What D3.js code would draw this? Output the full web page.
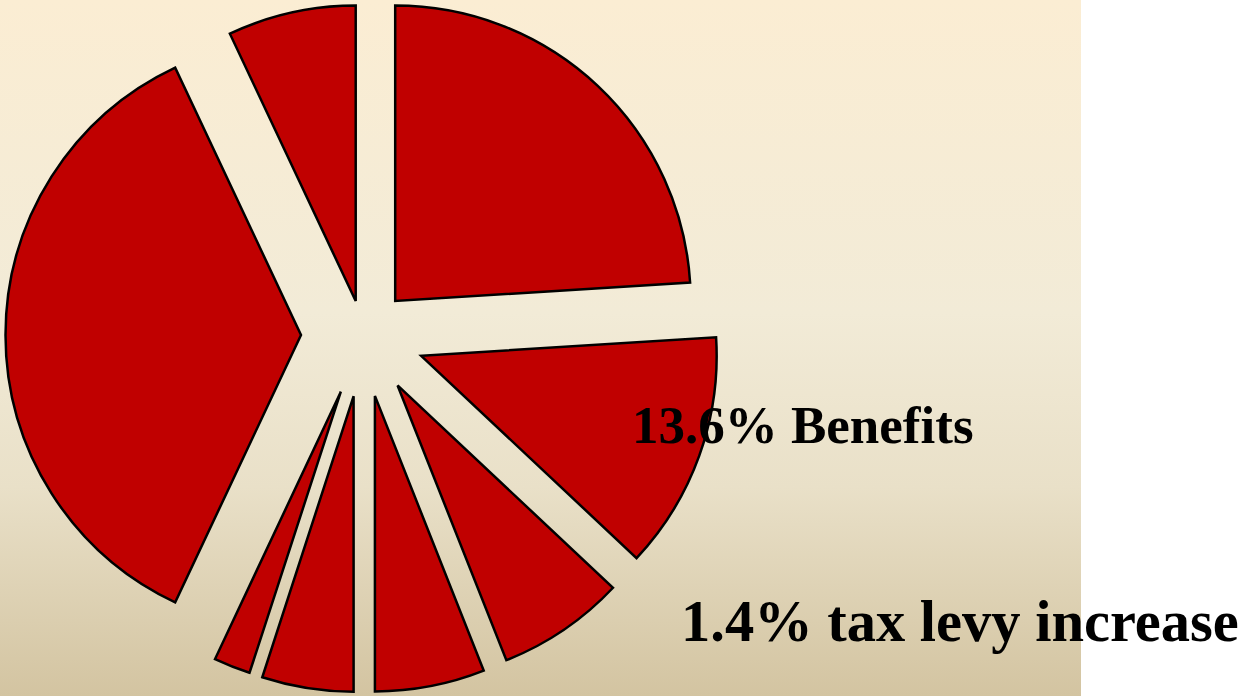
<!DOCTYPE html>
<html>
<head>
<meta charset="utf-8">
<script src="https://cdn.jsdelivr.net/npm/d3@7"></script>
<style>
  html, body { margin: 0; padding: 0; background: #ffffff; }
  svg { display: block; }
</style>
</head>
<body>
<svg id="chart" width="1242" height="696"></svg>
<script>
// Data (percent shares, clockwise from 12 o'clock)
const categories = ["A", "Benefits", "C", "D", "E", "Tax levy increase", "G", "H"];
const values = [24, 13, 7, 6, 5, 2, 36, 7];
// explosion distance of each slice (px)
const explode = [46.6, 61.5, 61, 62, 62, 61, 62.3, 34.8];
const labels = [
  { text: "13.6% Benefits", x: 632, y: 443, size: 53 },
  { text: "1.4% tax levy increase", x: 681, y: 641, size: 58.5 }
];

const W = 1242, H = 696;
const svg = d3.select("#chart");

// background gradient panel
const defs = svg.append("defs");
const grad = defs.append("linearGradient").attr("id", "bg")
  .attr("x1", 0).attr("y1", 0).attr("x2", 0).attr("y2", 1);
[[0, "#fbedd3"], [0.45, "#f2ebd7"], [0.7, "#e9e0c8"], [1, "#d3c4a1"]].forEach(s =>
  grad.append("stop").attr("offset", s[0]).attr("stop-color", s[1]));
svg.append("rect").attr("x", 0).attr("y", 0).attr("width", 1081).attr("height", H)
  .attr("fill", "url(#bg)");

const cx = 363.3, cy = 335, R = 295.5;
const pie = d3.pie().sort(null).value(d => d)(values);
const arc = d3.arc().innerRadius(0).outerRadius(R);

const g = svg.append("g").attr("transform", `translate(${cx},${cy})`);
g.selectAll("path").data(pie).join("path")
  .attr("d", arc)
  .attr("transform", (d, i) => {
    const m = (d.startAngle + d.endAngle) / 2;
    return `translate(${Math.sin(m) * explode[i]},${-Math.cos(m) * explode[i]})`;
  })
  .attr("fill", "#c00000")
  .attr("stroke", "#000")
  .attr("stroke-width", 2.5)
  .attr("stroke-linejoin", "miter");

svg.selectAll("text.lbl").data(labels).join("text")
  .attr("class", "lbl")
  .attr("x", d => d.x).attr("y", d => d.y)
  .attr("font-family", "'Liberation Serif', 'Times New Roman', serif")
  .attr("font-weight", "bold")
  .attr("font-size", d => d.size)
  .attr("fill", "#000")
  .text(d => d.text);
</script>
</body>
</html>
